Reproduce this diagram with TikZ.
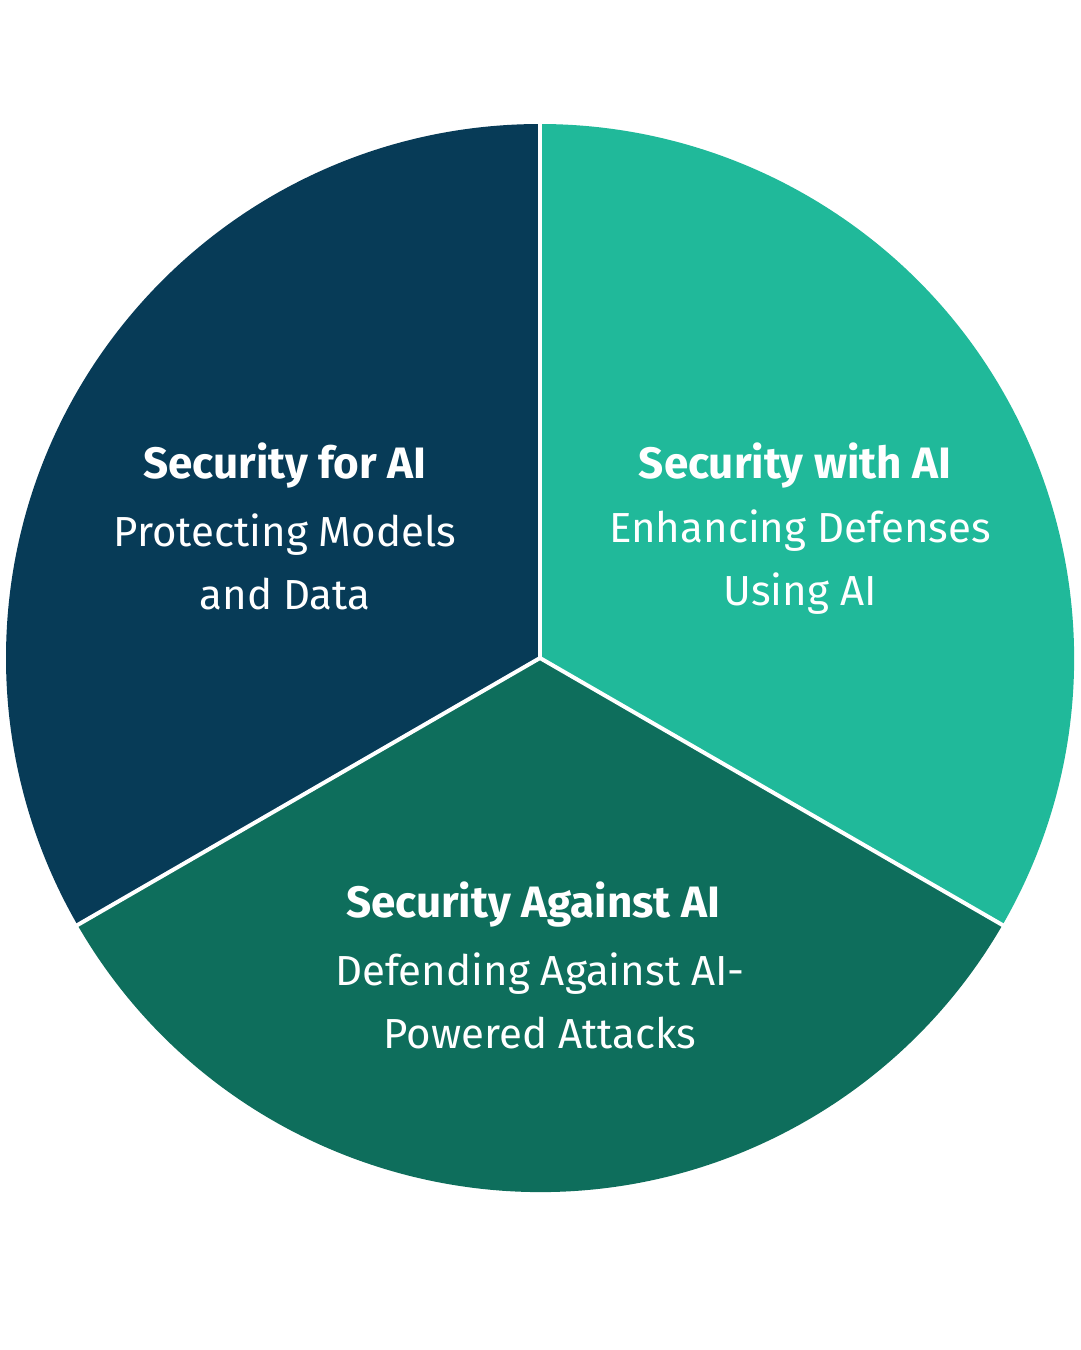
\documentclass[tikz,border=0pt]{standalone}
\usepackage{fontspec}
\setmainfont{Fira Sans}
\definecolor{navy}{HTML}{073B57}
\definecolor{teal}{HTML}{20B99A}
\definecolor{dgreen}{HTML}{0E6E5C}
\begin{document}
\begin{tikzpicture}[x=1pt,y=-1pt,
  sector/.style={draw=white,line width=4pt,line join=round},
  ttl/.style={text=white,font=\fontsize{44}{63}\selectfont\bfseries,align=center},
  sub/.style={text=white,font=\fontsize{42}{63}\selectfont,align=center}]
\useasboundingbox (0,0) rectangle (1080,1350);
\coordinate (c) at (540,658);
\fill[navy] (c) -- ++(0,-534) arc[start angle=-90,end angle=-210,radius=534] -- cycle;
\fill[dgreen] (c) -- ++(-462.5,267) arc[start angle=150,end angle=30,radius=534] -- cycle;
\fill[teal] (c) -- ++(462.5,267) arc[start angle=30,end angle=-90,radius=534] -- cycle;
\draw[sector] (c) -- ++(0,-540);
\draw[sector] (c) -- ++(-467.7,270);
\draw[sector] (c) -- ++(467.7,270);
\node[ttl] (t1) at (285,466) {Security for AI};
\node[sub] (s1) at (285,562) {Protecting Models\\and Data};
\node[ttl] (t2) at (795,466) {Security with AI};
\node[sub] (s2) at (800,562) {Enhancing Defenses\\Using AI};
\node[ttl] (t3) at (533,905) {Security Against AI};
\node[sub] (s3) at (540,1001) {Defending Against AI-\\Powered Attacks};
\end{tikzpicture}
\end{document}
